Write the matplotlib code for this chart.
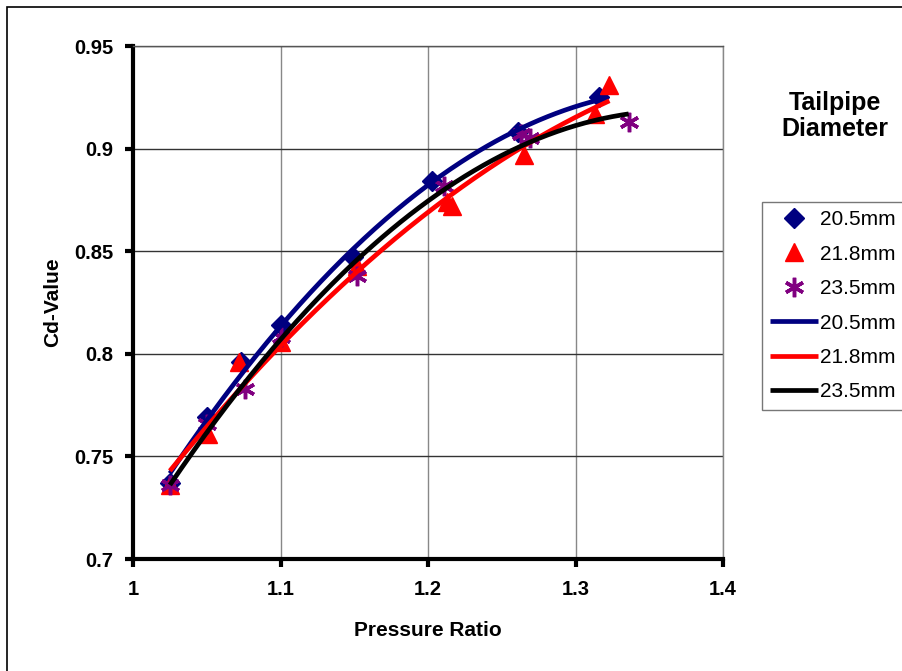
import numpy as np
import matplotlib
matplotlib.use("Agg")
import matplotlib.pyplot as plt
from matplotlib.patches import Rectangle

plt.rcParams['font.family'] = ['Liberation Sans', 'DejaVu Sans']

pr_205 = [1.025, 1.050, 1.073, 1.100, 1.149, 1.203, 1.261, 1.316]
cd_205 = [0.737, 0.769, 0.796, 0.814, 0.847, 0.884, 0.908, 0.925]

pr_218 = [1.025, 1.051, 1.072, 1.100, 1.152, 1.213, 1.216, 1.265, 1.313, 1.323]
cd_218 = [0.736, 0.761, 0.796, 0.806, 0.843, 0.874, 0.872, 0.897, 0.917, 0.931]

pr_235 = [1.025, 1.050, 1.076, 1.100, 1.152, 1.211, 1.263, 1.269, 1.336]
cd_235 = [0.736, 0.766, 0.783, 0.808, 0.838, 0.882, 0.907, 0.905, 0.913]

labels = ['20.5mm', '21.8mm', '23.5mm']
colors = ['#000080', '#FF0000', '#000000']
marker_colors = ['#000080', '#FF0000', '#800080']
markers = ['D', '^', (6, 2, 0)]
msizes = [10, 13, 14]

series = [(pr_205, cd_205), (pr_218, cd_218), (pr_235, cd_235)]

fig = plt.figure(figsize=(9.03, 6.71), dpi=100)
ax = fig.add_axes([0.1473, 0.1669, 0.6534, 0.7645])

# outer chart frame
fig.patches.append(Rectangle((7 / 903, -0.1), 1.2, 1 - 7 / 671 + 0.1,
                             transform=fig.transFigure, fill=False,
                             edgecolor='black', linewidth=1.2))

handles = []
for (x, y), lab, mc, m, ms in zip(series, labels, marker_colors, markers, msizes):
    h = ax.plot(x, y, linestyle='none', marker=m, color=mc, markersize=ms,
                markeredgewidth=2.5 if m == (6, 2, 0) else 1, label=lab, zorder=3)[0]
    handles.append(h)

for (x, y), lab, c in zip(series, labels, colors):
    coef = np.polyfit(x, y, 2)
    xs = np.linspace(min(x), max(x), 200)
    h = ax.plot(xs, np.polyval(coef, xs), color=c, linewidth=3.4, label=lab,
                solid_capstyle='butt', zorder=4)[0]
    handles.append(h)

ax.set_xlim(1, 1.4)
ax.set_ylim(0.7, 0.95)
ax.set_xticks([1, 1.1, 1.2, 1.3, 1.4])
ax.set_xticklabels(['1', '1.1', '1.2', '1.3', '1.4'])
ax.set_yticks([0.7, 0.75, 0.8, 0.85, 0.9, 0.95])
ax.set_yticklabels(['0.7', '0.75', '0.8', '0.85', '0.9', '0.95'])
for lbl in ax.get_xticklabels() + ax.get_yticklabels():
    lbl.set_fontweight('bold')
    lbl.set_fontsize(14.5)

ax.yaxis.grid(True, color='#333333', linewidth=1)
ax.xaxis.grid(True, color='#888888', linewidth=1)
ax.set_axisbelow(True)
ax.spines['top'].set_color('#555555')
ax.spines['right'].set_color('#888888')
ax.spines['top'].set_linewidth(1)
ax.spines['right'].set_linewidth(1)
ax.spines['left'].set_linewidth(3)
ax.spines['bottom'].set_linewidth(3)
ax.tick_params(axis='both', direction='out', length=6, width=3)
ax.tick_params(axis='y', pad=8)
ax.tick_params(axis='x', pad=9)

ax.set_xlabel('Pressure Ratio', fontsize=15, fontweight='bold', labelpad=16)
ax.set_ylabel('Cd-Value', fontsize=15, fontweight='bold', labelpad=9)

fig.text(835 / 903, 1 - 116 / 671, 'Tailpipe\nDiameter', fontsize=18,
         fontweight='bold', ha='center', va='center', linespacing=1.15)

leg = fig.legend(handles=handles, labels=labels * 2, loc='upper left',
                 bbox_to_anchor=(762 / 903, 1 - 202 / 671), fontsize=15,
                 frameon=True, fancybox=False, edgecolor='#555555',
                 handlelength=2.3, handletextpad=0.1, borderpad=0.4,
                 labelspacing=0.74, borderaxespad=0)
leg.get_frame().set_linewidth(1)

fig.savefig('out.png', dpi=100)
